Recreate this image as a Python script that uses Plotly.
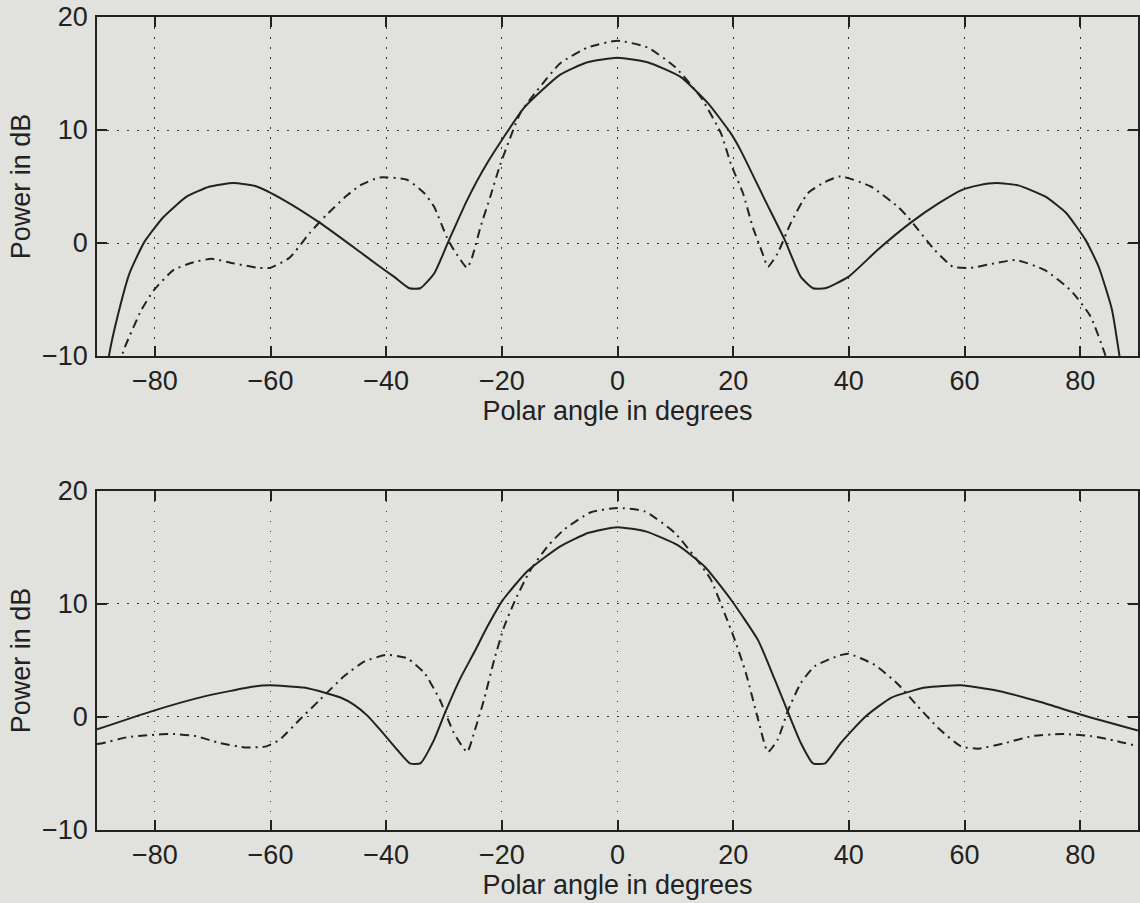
import plotly.graph_objects as go
from plotly.subplots import make_subplots

# ---------------- data ----------------
x_ticks = [-80, -60, -40, -20, 0, 20, 40, 60, 80]
y_ticks = [-10, 0, 10, 20]

top_solid_x = [-88.5, -87.9, -86.3, -84.4, -81.8, -78.5, -74.5, -70.5, -66.4, -62.4, -57.7, -51.5,
               -44.5, -41.6, -38.6, -36.0, -34.1, -31.7, -29.1, -26.0, -22.5, -16.1, -9.9, -5.2,
               0.0, 5.2, 10.9, 15.6, 19.6, 21.3, 25.5, 28.9, 31.7, 33.8, 35.9, 39.9, 45.0, 50.7,
               55.5, 59.6, 62.4, 65.5, 69.3, 74.0, 77.5, 80.9, 83.2, 85.5, 86.8, 87.5]
top_solid_y = [-12.5, -9.9, -6.2, -2.7, 0.1, 2.3, 4.1, 5.0, 5.3, 5.0, 3.8, 1.8,
               -0.8, -1.9, -3.0, -4.0, -4.0, -2.7, 0.3, 3.8, 7.1, 12.0, 14.9, 16.0,
               16.4, 16.0, 14.7, 12.4, 9.7, 8.2, 3.8, 0.3, -3.0, -4.0, -4.0, -3.0, -0.6, 1.8,
               3.5, 4.7, 5.1, 5.3, 5.1, 4.1, 2.7, 0.3, -2.1, -5.9, -10.0, -12.5]

top_dash_x = [-86.2, -85.4, -82.3, -80.2, -76.8, -73.3, -70.2, -66.4, -62.0, -60.1, -56.7, -53.2,
              -50.3, -46.8, -44.5, -41.1, -36.4, -33.4, -31.7, -29.5, -28.3, -26.0, -25.1, -23.7,
              -22.0, -20.3, -16.8, -13.9, -9.9, -5.2, 0.0, 5.2, 9.9, 14.4, 17.9, 19.6, 21.7, 23.4,
              25.0, 26.0, 27.7, 30.0, 32.9, 35.9, 38.6, 43.8, 48.5, 50.2, 54.8, 58.0, 61.0, 65.2,
              68.9, 73.9, 78.4, 81.8, 84.2, 85.0]
top_dash_y = [-11.0, -9.5, -5.9, -4.2, -2.4, -1.7, -1.4, -1.8, -2.2, -2.2, -1.3, 0.9,
              2.5, 4.2, 5.1, 5.8, 5.6, 4.4, 3.2, 0.5, -0.6, -2.2, -1.2, 1.4,
              4.1, 6.9, 11.5, 13.5, 15.9, 17.3, 17.9, 17.3, 15.6, 12.9, 9.7, 7.0, 4.4, 1.4,
              -0.8, -2.1, -0.9, 1.8, 4.4, 5.4, 5.9, 5.0, 3.2, 2.3, -0.6, -2.1, -2.2, -1.8,
              -1.5, -2.4, -4.2, -6.5, -9.7, -11.0]

bot_solid_x = [-90.0, -80.6, -71.6, -62.9, -60.1, -54.2, -50.3, -47.8, -45.6, -43.2, -41.1, -38.1,
               -35.9, -34.1, -31.7, -29.8, -27.2, -24.8, -22.5, -19.9, -15.6, -9.9, -5.0, 0.0, 5.0,
               10.4, 15.1, 19.6, 24.3, 27.2, 29.5, 31.7, 33.8, 35.9, 38.6, 42.8, 47.3, 53.2, 59.4,
               65.9, 73.3, 80.2, 90.0]
bot_solid_y = [-1.1, 0.5, 1.8, 2.7, 2.8, 2.6, 2.1, 1.7, 1.1, 0.1, -1.1, -2.9,
               -4.1, -4.1, -2.0, 0.4, 3.4, 5.7, 8.0, 10.3, 12.9, 15.1, 16.3, 16.8, 16.4,
               15.2, 13.3, 10.4, 6.8, 3.3, 0.4, -2.3, -4.1, -4.1, -2.3, 0.0, 1.7, 2.6, 2.8,
               2.3, 1.3, 0.2, -1.2]

bot_dash_x = [-90.0, -88.9, -84.9, -80.9, -76.8, -72.8, -68.8, -64.1, -60.7, -58.4, -54.9, -51.5,
              -47.3, -43.8, -39.9, -36.4, -33.4, -30.7, -28.3, -26.0, -24.8, -23.1, -21.3, -19.6,
              -17.9, -15.3, -12.1, -9.2, -4.7, 0.0, 4.7, 9.9, 13.3, 16.1, 18.5, 20.3, 22.2, 24.3,
              26.0, 27.7, 29.5, 31.7, 34.1, 38.1, 39.9, 44.5, 48.5, 52.0, 55.5, 59.4, 62.4, 67.1,
              71.6, 76.8, 82.0, 86.1, 90.0]
bot_dash_y = [-2.4, -2.3, -1.8, -1.6, -1.5, -1.7, -2.3, -2.7, -2.6, -2.0, -0.2, 1.5,
              3.6, 4.9, 5.5, 5.2, 3.9, 1.5, -1.4, -3.1, -1.4, 1.5, 5.1, 8.0,
              10.1, 12.8, 15.1, 16.6, 18.1, 18.5, 18.2, 16.3, 14.2, 12.2, 9.2, 6.8, 3.9, -0.2,
              -3.1, -2.0, 0.6, 3.0, 4.5, 5.4, 5.6, 4.6, 2.9, 0.9, -1.0, -2.6, -2.8, -2.3,
              -1.7, -1.5, -1.7, -2.1, -2.6]

x_title = "Polar angle in degrees"
y_title = "Power in dB"

# ---------------- styling ----------------
BG = "rgb(225,226,222)"
INK = "#222222"
FONT = "Liberation Sans, Arial, Helvetica, sans-serif"
SOLID = dict(color=INK, width=2, shape="spline", smoothing=0.5)
DASHDOT = dict(color=INK, width=2, dash="9px,5px,2px,5px", shape="spline", smoothing=0.5)

fig = make_subplots(rows=2, cols=1)

fig.add_trace(go.Scatter(x=top_solid_x, y=top_solid_y, mode="lines", line=SOLID), row=1, col=1)
fig.add_trace(go.Scatter(x=top_dash_x, y=top_dash_y, mode="lines", line=DASHDOT), row=1, col=1)
fig.add_trace(go.Scatter(x=bot_solid_x, y=bot_solid_y, mode="lines", line=SOLID), row=2, col=1)
fig.add_trace(go.Scatter(x=bot_dash_x, y=bot_dash_y, mode="lines", line=DASHDOT), row=2, col=1)

axis_common = dict(
    ticks="inside", ticklen=10, tickwidth=1.5, tickcolor=INK,
    showline=True, linecolor=INK, linewidth=1.5, mirror="ticks",
    showgrid=True, gridcolor="#333333", gridwidth=1, griddash="1.5px,8.5px",
    zeroline=False, automargin=False,
    tickfont=dict(family=FONT, size=27, color=INK),
    title_font=dict(family=FONT, size=27, color=INK),
)

for i in (1, 2):
    fig.update_xaxes(range=[-90, 90], tickvals=x_ticks, title_text=x_title,
                     title_standoff=0, ticklabelstandoff=0, row=i, col=1, **axis_common)
    fig.update_yaxes(range=[-10, 20], tickvals=y_ticks, title_text=y_title,
                     title_standoff=4, ticklabelstandoff=2, row=i, col=1, **axis_common)

fig.update_layout(
    width=1140, height=903,
    margin=dict(l=97, r=2, t=17, b=73, autoexpand=False),
    paper_bgcolor=BG, plot_bgcolor=BG,
    showlegend=False,
    yaxis=dict(domain=[0.583, 1.0]),
    yaxis2=dict(domain=[0.0, 0.417]),
)

fig.write_html(
    "out.html",
    config={"displayModeBar": False},
    post_script="document.body.style.margin='0';document.body.style.overflow='hidden';"
                "document.body.style.background='rgb(225,226,222)';",
)
